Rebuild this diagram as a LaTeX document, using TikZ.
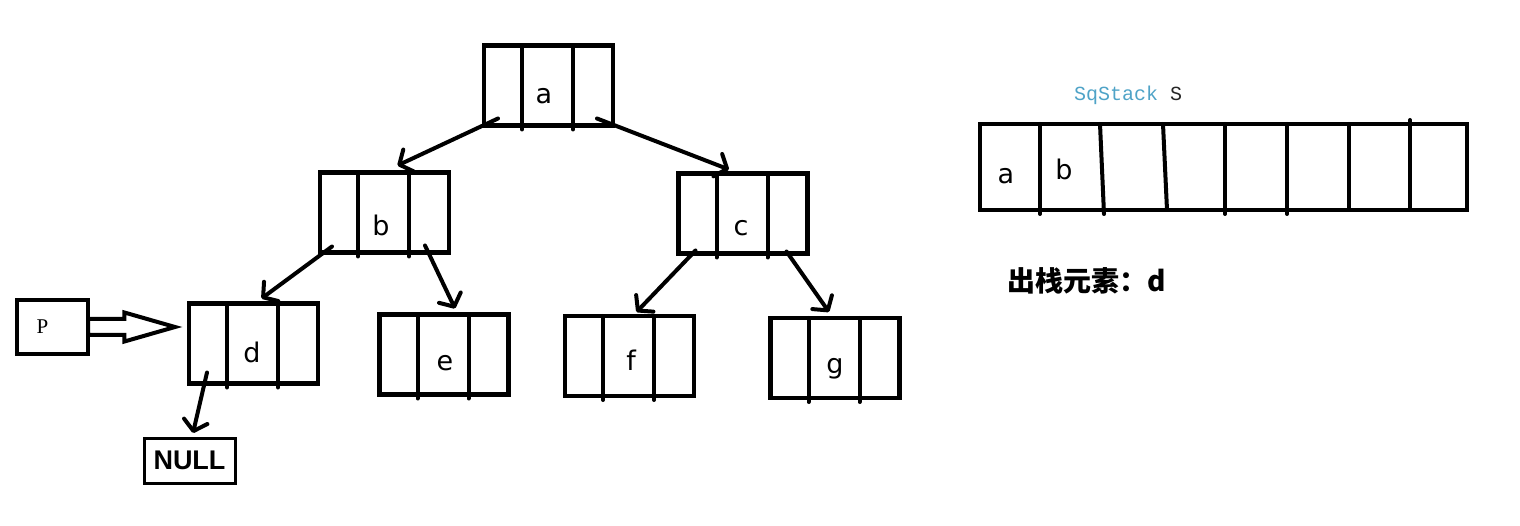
\documentclass[tikz,border=0pt]{standalone}
\usepackage{fontspec}
\setmainfont{DejaVu Sans}
\newfontfamily\cjkfont{Noto Sans CJK SC}
\newfontfamily\ptrfont{Liberation Serif}
\newfontfamily\boxfont{Liberation Sans}
\newfontfamily\codefont{Liberation Mono}
\usepackage{xcolor}
\definecolor{StackBlue}{HTML}{4FA3C7}
\usetikzlibrary{arrows.meta, calc, shapes.arrows}

\begin{document}
\begin{tikzpicture}[x=1pt, y=-1pt,
    cell/.style={draw, line width=4.5pt, minimum width=129pt, minimum height=80pt, inner sep=0pt, outer sep=0pt},
    celltext/.style={font=\fontsize{27}{29}\selectfont, inner sep=0pt},
    divline/.style={line width=4pt, line cap=round},
    edge/.style={line width=4pt, line cap=round, -{Straight Barb[length=10pt, width=24pt, round]}}]
    \useasboundingbox (0,0) rectangle (1520,526);

    % the tree
    \node[cell] (a) at (548.5,85.5) {};
    \node[cell] (b) at (384.5,212.5) {};
    \node[cell] (c) at (743,213.5) {};
    \node[cell] (d) at (253.5,343.5) {};
    \node[cell] (e) at (444,354.5) {};
    \node[cell] (f) at (629.5,356) {};
    \node[cell] (g) at (835,358) {};
    \foreach \n in {a,b,c,d,e,f,g} {
        \draw[divline] ([xshift=38pt]\n.north west) -- ([xshift=38pt,yshift=-4pt]\n.south west);
        \draw[divline] ([xshift=89pt]\n.north west) -- ([xshift=89pt,yshift=-4pt]\n.south west);
    }
    \node[celltext] (la) at (544,96) {a};
    \node[celltext] (lb) at (381,225) {b};
    \node[celltext] (lc) at (741,228) {c};
    \node[celltext] (ld) at (252,352) {d};
    \node[celltext] (le) at (445,363) {e};
    \node[celltext] (lf) at (631,360) {f};
    \node[celltext] (lg) at (835,369) {g};

    \draw[edge] ([shift={(14,-7)}]a.south west) -- ([shift={(13,-7)}]b.north);
    \draw[edge] ([shift={(-16,-7)}]a.south east) -- ([shift={(-14,-4)}]c.north);
    \draw[edge] ([shift={(12,-6)}]b.south west) -- ([shift={(8,-5)}]d.north);
    \draw[edge] ([shift={(-24,-7)}]b.south east) -- ([shift={(11,-6)}]e.north);
    \draw[edge] ([shift={(17,-3)}]c.south west) -- ([shift={(7,-4)}]f.north);
    \draw[edge] ([shift={(-21,-2)}]c.south east) -- ([shift={(-6,-6)}]g.north);

    % pointer P and NULL
    \node[draw, line width=4.5pt, minimum width=71pt, minimum height=54pt, outer sep=0pt,
          label={[font=\ptrfont\fontsize{21}{23}\selectfont, xshift=-10pt]center:P}] (p) at (52.5,327) {};
    \node[single arrow, draw, line width=4pt, inner xsep=0pt, inner ysep=6pt, outer sep=0pt,
          minimum height=87pt, single arrow head extend=6.5pt, single arrow tip angle=32,
          anchor=tail] (pd) at (p.east) {};
    \node[draw, line width=3pt, minimum width=91pt, minimum height=45pt, inner sep=0pt, outer sep=0pt,
          font=\boxfont\bfseries\fontsize{27}{29}\selectfont] (null) at (189.5,460.5) {NULL};
    \draw[edge] ([shift={(18,-11)}]d.south west) -- ([shift={(3.5,-5)}]null.north);

    % the stack
    \node[font=\codefont\fontsize{20}{22}\selectfont, text=StackBlue, inner sep=0pt] (sname) at (1128,95) {SqStack \textcolor{black!85}{S}};
    \node[draw, line width=4.5pt, minimum width=487pt, minimum height=86pt, inner sep=0pt, outer sep=0pt] (s) at (1223.5,167) {};
    \foreach \xt/\xb/\yt/\yb in {60/60/0/4, 120/124/0/4, 183/187/0/0, 245/245/0/4, 307/307/0/4, 369/369/0/0, 430/430/-4/0}
        \draw[divline] ($(s.north west)+(\xt,\yt)$) -- ($(s.south west)+(\xb,\yb)$);
    \node[celltext] (sa) at (1006,176) {a};
    \node[celltext] (sb) at (1064,169) {b};

    \node[font=\cjkfont\bfseries\fontsize{28}{30}\selectfont, inner sep=0pt] (pop) at (1087,281) {出栈元素：d};
\end{tikzpicture}
\end{document}
